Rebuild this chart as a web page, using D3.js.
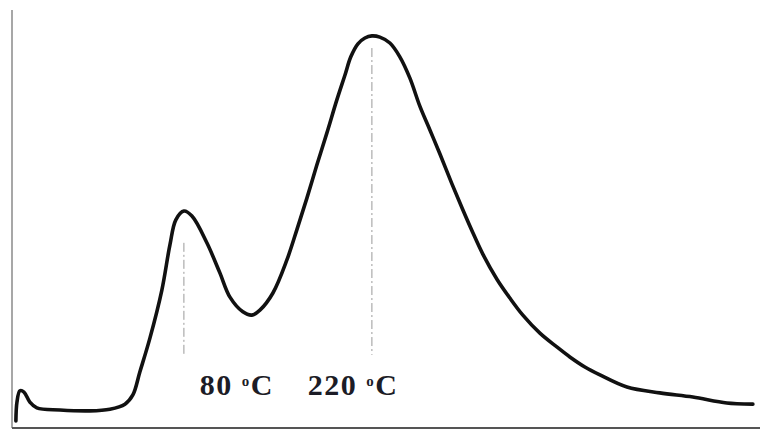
<!DOCTYPE html>
<html>
<head>
<meta charset="utf-8">
<script src="https://cdn.jsdelivr.net/npm/d3@7"></script>
<style>
  body { margin: 0; background: #fff; }
  #chart svg { display: block; }
</style>
</head>
<body>
<div id="chart"></div>
<script>
// desorption profile (temperature in °C, signal in arbitrary units)
var temps = [-45.1, -44.3, -42.1, -39.1, -34.7, -29.5, -12.3, 10.0, 24.9, 36.1,
  42.0, 47.2, 54.7, 63.6, 69.6, 74.0, 80, 86.0, 97.1, 106.8,
  114.3, 123.9, 130.6, 136.6, 146.3, 156.7, 164.1, 171.6, 179.0, 186.5,
  193.9, 199.9, 204.3, 209.6, 214.8, 220, 225.9, 233.4, 240.8, 248.3,
  255.7, 263.2, 270.6, 279.6, 287.7, 295.2, 302.6, 313.1, 322.7, 332.4,
  345.1, 357.7, 367.4, 378.6, 389.8, 409.9, 434.4, 459.0, 484.3, 503.7]
var signal = [1.7, 6.2, 8.9, 8.6, 6.2, 4.8, 4.3, 4.1, 4.5, 5.7,
  7.9, 13.4, 21.5, 33.0, 43.8, 49.8, 51.9, 50.7, 44.3, 37.1,
  31.3, 27.8, 27.0, 28.2, 32.3, 40.2, 47.4, 55.0, 62.9, 70.6,
  78.5, 84.4, 88.8, 91.9, 93.3, 93.8, 93.5, 92.1, 88.8, 83.7,
  77.0, 71.3, 65.6, 58.4, 52.2, 46.7, 41.6, 35.6, 31.1, 27.0,
  22.7, 19.4, 17.0, 14.6, 12.7, 9.8, 8.4, 7.4, 6.0, 5.7]

// peak markers
var peakTemps = [80, 220]
var peakTops = [44.3, 90.9]
var peakBottom = 17.5

// labels under the peaks
var labelNums = ["80", "220"]
var labelTemps = [91.9, 172.3]
var labelLevel = 7.9

var W = 760, H = 431
var margin = { top: 10, right: 0, bottom: 3, left: 12 }

var x = d3.scaleLinear()
  .domain([-48, 509])
  .range([margin.left, W - margin.right])

var y = d3.scaleLinear()
  .domain([0, 100])
  .range([H - margin.bottom, margin.top])

var data = temps.map(function(t, i){ return { t: t, v: signal[i] } })

var svg = d3.select("#chart").append("svg")
  .attr("width", W)
  .attr("height", H)

// axes, plain lines without ticks
svg.append("line")
  .attr("x1", x(-48)).attr("x2", x(-48))
  .attr("y1", y(100)).attr("y2", y(0))
  .attr("stroke", "#8a8a8a")
  .attr("stroke-width", 1.5)

svg.append("line")
  .attr("x1", x(-48)).attr("x2", x(509))
  .attr("y1", y(0)).attr("y2", y(0))
  .attr("stroke", "#555")
  .attr("stroke-width", 2)

// dashed guides at the peaks
svg.selectAll(".guide")
  .data(peakTemps)
  .enter().append("line")
  .attr("class", "guide")
  .attr("x1", d => x(d)).attr("x2", d => x(d))
  .attr("y1", (d, i) => y(peakTops[i]))
  .attr("y2", y(peakBottom))
  .attr("stroke", "#9a9a9a")
  .attr("stroke-width", 1)
  .attr("stroke-dasharray", "9,3,2,3")

var line = d3.line().curve(d3.curveCatmullRom.alpha(0.5))
  .x(function(d){ return x(d.t); })
  .y(function(d){ return y(d.v); })

svg.append("path")
  .datum(data)
  .attr("d", line)
  .attr("fill", "none")
  .attr("stroke", "#111")
  .attr("stroke-width", 3.6)
  .attr("stroke-linejoin", "round")
  .attr("stroke-linecap", "round")

var labels = svg.selectAll(".lbl")
  .data(labelNums)
  .enter().append("text")
  .attr("class", "lbl")
  .attr("x", (d, i) => x(labelTemps[i]))
  .attr("y", y(labelLevel))
  .style("font-family", "'Liberation Serif', 'DejaVu Serif', serif")
  .style("font-weight", "bold")
  .style("font-size", "30px")
  .style("letter-spacing", "1.5px")
  .style("fill", "#1c1c26")

labels.append("tspan").text(d => d + " ")
labels.append("tspan")
  .attr("dy", -9)
  .style("font-size", "15px")
  .text("o")
labels.append("tspan")
  .attr("dy", 9)
  .text("C")
</script>
</body>
</html>
